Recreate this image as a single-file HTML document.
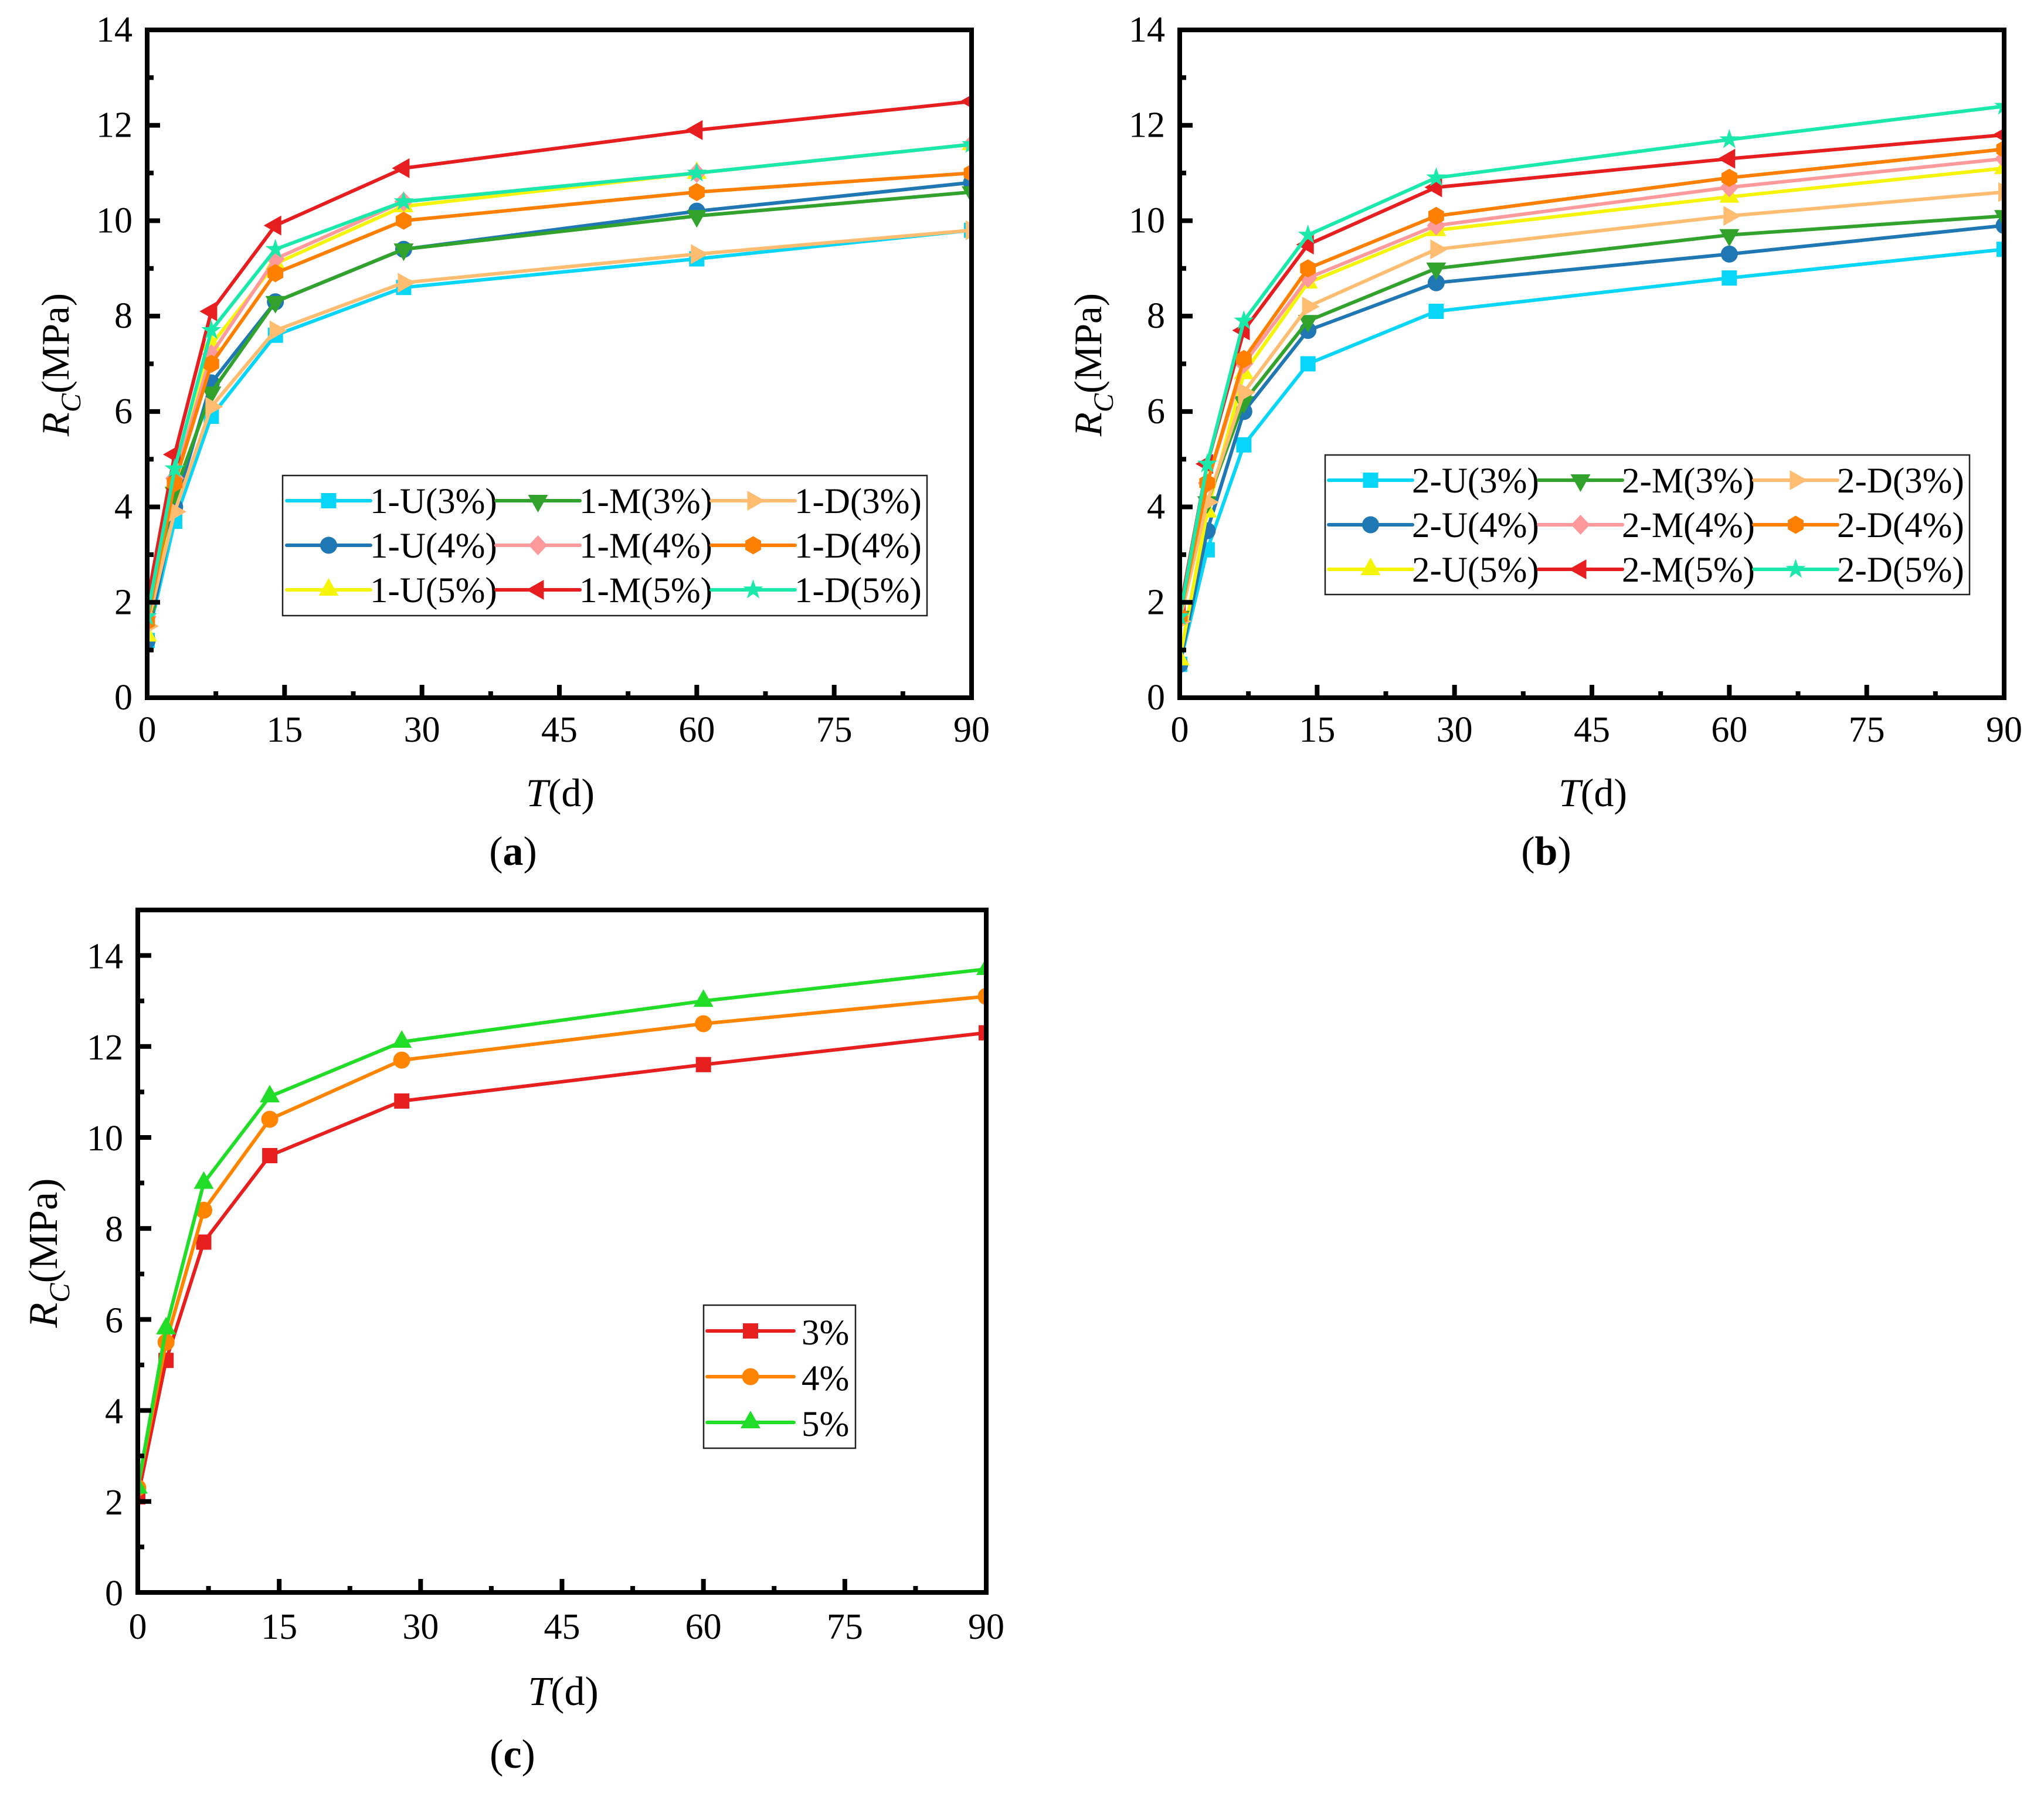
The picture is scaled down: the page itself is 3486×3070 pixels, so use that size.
<!DOCTYPE html>
<html lang="en">
<head>
<meta charset="utf-8">
<title>Compressive strength vs curing time</title>
<style>
html,body{margin:0;padding:0;background:#fff;}
svg{display:block;}
text{font-family:"Liberation Serif","Times New Roman",serif;fill:#000;}
</style>
</head>
<body>
<svg id="fig" xmlns="http://www.w3.org/2000/svg" width="3486" height="3070" viewBox="0 0 3486 3070">
<rect x="0" y="0" width="3486" height="3070" fill="#ffffff"/>
<g id="panel-a"></g>
<g id="panel-b"></g>
<g id="panel-c"></g>

<text x="955.5" y="1375" font-size="68" text-anchor="middle"><tspan font-style="italic">T</tspan>(d)</text>
<text x="2716.5" y="1375" font-size="68" text-anchor="middle"><tspan font-style="italic">T</tspan>(d)</text>
<text x="960.5" y="2908" font-size="70" text-anchor="middle"><tspan font-style="italic">T</tspan>(d)</text>

<text transform="translate(117,622) rotate(-90)" font-size="67" text-anchor="middle"><tspan font-style="italic">R</tspan><tspan font-style="italic" font-size="48" dy="20">C</tspan><tspan dy="-20">(MPa)</tspan></text>
<text transform="translate(1878,622) rotate(-90)" font-size="67" text-anchor="middle"><tspan font-style="italic">R</tspan><tspan font-style="italic" font-size="48" dy="20">C</tspan><tspan dy="-20">(MPa)</tspan></text>
<text transform="translate(97,2137) rotate(-90)" font-size="70" text-anchor="middle"><tspan font-style="italic">R</tspan><tspan font-style="italic" font-size="50" dy="21">C</tspan><tspan dy="-21">(MPa)</tspan></text>

<text x="875" y="1475" font-size="70" text-anchor="middle">(<tspan font-weight="bold">a</tspan>)</text>
<text x="2637" y="1475" font-size="70" text-anchor="middle">(<tspan font-weight="bold">b</tspan>)</text>
<text x="874" y="3015" font-size="70" text-anchor="middle">(<tspan font-weight="bold">c</tspan>)</text>
</svg>

<script>
// ---- Data ----
const days = [0, 3, 7, 14, 28, 60, 90];
const xTickLabels = [0, 15, 30, 45, 60, 75, 90];
const yTickLabelsAB = [0, 2, 4, 6, 8, 10, 12, 14];
const yTickLabelsC = [0, 2, 4, 6, 8, 10, 12, 14];

const a_U3 = [1.2, 3.7, 5.9, 7.6, 8.6, 9.2, 9.8];
const a_U4 = [1.2, 4.0, 6.6, 8.3, 9.4, 10.2, 10.8];
const a_U5 = [1.3, 4.5, 7.4, 9.1, 10.3, 11.0, 11.6];
const a_M3 = [1.8, 4.3, 6.4, 8.3, 9.4, 10.1, 10.6];
const a_M4 = [1.7, 4.6, 7.2, 9.2, 10.4, 11.0, 11.6];
const a_M5 = [2.0, 5.1, 8.1, 9.9, 11.1, 11.9, 12.5];
const a_D3 = [1.5, 3.9, 6.1, 7.7, 8.7, 9.3, 9.8];
const a_D4 = [1.6, 4.5, 7.0, 8.9, 10.0, 10.6, 11.0];
const a_D5 = [1.7, 4.8, 7.7, 9.4, 10.4, 11.0, 11.6];

const b_U3 = [0.7, 3.1, 5.3, 7.0, 8.1, 8.8, 9.4];
const b_U4 = [0.7, 3.5, 6.0, 7.7, 8.7, 9.3, 9.9];
const b_U5 = [0.8, 3.9, 6.8, 8.7, 9.8, 10.5, 11.1];
const b_M3 = [1.7, 4.1, 6.2, 7.9, 9.0, 9.7, 10.1];
const b_M4 = [1.7, 4.5, 7.0, 8.8, 9.9, 10.7, 11.3];
const b_M5 = [1.8, 4.9, 7.7, 9.5, 10.7, 11.3, 11.8];
const b_D3 = [1.6, 4.1, 6.4, 8.2, 9.4, 10.1, 10.6];
const b_D4 = [1.7, 4.5, 7.1, 9.0, 10.1, 10.9, 11.5];
const b_D5 = [1.7, 4.9, 7.9, 9.7, 10.9, 11.7, 12.4];

const c_3 = [2.1, 5.1, 7.7, 9.6, 10.8, 11.6, 12.3];
const c_4 = [2.3, 5.5, 8.4, 10.4, 11.7, 12.5, 13.1];
const c_5 = [2.3, 5.8, 9.0, 10.9, 12.1, 13.0, 13.7];

const seriesA = [a_U3, a_U4, a_U5, a_M3, a_M4, a_M5, a_D3, a_D4, a_D5];
const seriesB = [b_U3, b_U4, b_U5, b_M3, b_M4, b_M5, b_D3, b_D4, b_D5];
const seriesC = [c_3, c_4, c_5];

const namesA = ['1-U(3%)', '1-U(4%)', '1-U(5%)', '1-M(3%)', '1-M(4%)', '1-M(5%)', '1-D(3%)', '1-D(4%)', '1-D(5%)'];
const namesB = ['2-U(3%)', '2-U(4%)', '2-U(5%)', '2-M(3%)', '2-M(4%)', '2-M(5%)', '2-D(3%)', '2-D(4%)', '2-D(5%)'];
const namesC = ['3%', '4%', '5%'];

// ---- Styles (not data) ----
const colors9 = ['#08d6f8', '#1f77b4', '#f5f50a', '#31a22c', '#ff9a9c', '#e61e1f', '#ffbd72', '#ff7f00', '#1ae9ab'];
const shapes9 = ['square', 'circle', 'up', 'down', 'diamond', 'left', 'right', 'hexagon', 'star'];
const colors3 = ['#e71f1f', '#ff8400', '#22dd28'];
const shapes3 = ['square', 'circle', 'up'];

const NS = 'http://www.w3.org/2000/svg';
function mk(tag, attrs, parent) {
  const el = document.createElementNS(NS, tag);
  for (const k in attrs) el.setAttribute(k, attrs[k]);
  if (parent) parent.appendChild(el);
  return el;
}
function poly(pts, cx, cy) {
  return pts.map(function (p) { return (cx + p[0]).toFixed(1) + ',' + (cy + p[1]).toFixed(1); }).join(' ');
}
function starPts() {
  const out = [];
  for (let i = 0; i < 10; i++) {
    const r = i % 2 ? 7 : 18;
    const t = -Math.PI / 2 + i * Math.PI / 5;
    out.push([r * Math.cos(t), r * Math.sin(t)]);
  }
  return out;
}
function hexPts() {
  const out = [];
  for (let i = 0; i < 6; i++) {
    const t = -Math.PI / 2 + i * Math.PI / 3;
    out.push([15.5 * Math.cos(t), 15.5 * Math.sin(t)]);
  }
  return out;
}
const shapePts = {
  square: [[-13, -13], [13, -13], [13, 13], [-13, 13]],
  up: [[0, -20], [17, 10], [-17, 10]],
  down: [[0, 20], [17, -10], [-17, -10]],
  left: [[-20, 0], [10, -17], [10, 17]],
  right: [[20, 0], [-10, -17], [-10, 17]],
  diamond: [[0, -17], [16, 0], [0, 17], [-16, 0]],
  hexagon: hexPts(),
  star: starPts()
};
function marker(shape, cx, cy, color, parent) {
  if (shape === 'circle') {
    return mk('circle', { cx: cx, cy: cy, r: 14.5, fill: color }, parent);
  }
  return mk('polygon', { points: poly(shapePts[shape], cx, cy), fill: color }, parent);
}

function drawPanel(cfg) {
  const root = document.getElementById(cfg.id);
  const sx = function (v) { return cfg.left + (v / cfg.xMax) * (cfg.right - cfg.left); };
  const sy = function (v) { return cfg.bottom - (v / cfg.yMax) * (cfg.bottom - cfg.top); };

  // clip for plot contents
  const clip = mk('clipPath', { id: cfg.id + '-clip' }, root);
  mk('rect', { x: cfg.left + 4, y: cfg.top + 4, width: cfg.right - cfg.left - 8, height: cfg.bottom - cfg.top - 8 }, clip);

  const plot = mk('g', { 'clip-path': 'url(#' + cfg.id + '-clip)' }, root);
  
  

  cfg.series.forEach(function (vals, i) {
    const g = mk('g', {}, plot);
    
    
    const pts = vals.map(function (v, j) { return sx(days[j]).toFixed(1) + ',' + sy(v).toFixed(1); }).join(' ');
    const line = mk('polyline', { points: pts, fill: 'none', stroke: cfg.colors[i], 'stroke-width': 6, 'stroke-linejoin': 'round' }, g);
    
    
    vals.forEach(function (v, j) {
      const m = marker(cfg.shapes[i], sx(days[j]), sy(v), cfg.colors[i], g);
      
      
    });
  });

  // axes frame
  const frame = mk('rect', { x: cfg.left, y: cfg.top, width: cfg.right - cfg.left, height: cfg.bottom - cfg.top, fill: 'none', stroke: '#000', 'stroke-width': 8 }, root);
  
  

  // x ticks
  cfg.xTicks.forEach(function (t, i) {
    const tick = mk('rect', { x: sx(t) - 4, y: cfg.bottom - 4 - cfg.major, width: 8, height: cfg.major + 4, fill: '#000' }, root);
    
    
    const lab = mk('text', { x: sx(t), y: cfg.xLabelY, 'font-size': 62, 'text-anchor': 'middle' }, root);
    
    
    lab.textContent = t;
    if (i < cfg.xTicks.length - 1) {
      const mid = (t + cfg.xTicks[i + 1]) / 2;
      const minor = mk('rect', { x: sx(mid) - 4, y: cfg.bottom - 4 - cfg.minor, width: 8, height: cfg.minor + 4, fill: '#000' }, root);
      
      
    }
  });

  // y ticks
  cfg.yTicks.forEach(function (t, i) {
    const tick = mk('rect', { x: cfg.left + 4, y: sy(t) - 4, width: cfg.major, height: 8, fill: '#000' }, root);
    
    
    const lab = mk('text', { x: cfg.yLabelX, y: sy(t) + cfg.yLabelDy, 'font-size': 62, 'text-anchor': 'end' }, root);
    
    
    lab.textContent = t;
    if (i < cfg.yTicks.length - 1) {
      const mid = (t + cfg.yTicks[i + 1]) / 2;
      const minor = mk('rect', { x: cfg.left + 4, y: sy(mid) - 4, width: cfg.minor, height: 8, fill: '#000' }, root);
      
      
    }
  });

  // legend
  const lg = cfg.legend;
  const lgGroup = mk('g', {}, root);
  
  
  const box = mk('rect', { x: lg.x, y: lg.y, width: lg.w, height: lg.h, fill: '#fff', stroke: '#222', 'stroke-width': 2.5 }, lgGroup);
  
  
  cfg.names.forEach(function (name, i) {
    const col = Math.floor(i / lg.rows);
    const row = i % lg.rows;
    const x0 = lg.cols[col];
    const yy = lg.rowY[row];
    const entry = mk('g', {}, lgGroup);
    
    
    mk('line', { x1: x0, y1: yy, x2: x0 + lg.lineW, y2: yy, stroke: cfg.colors[i], 'stroke-width': 6, 'stroke-linecap': 'round' }, entry);
    marker(cfg.shapes[i], x0 + lg.lineW / 2, yy, cfg.colors[i], entry);
    const tx = mk('text', { x: x0 + lg.textDx, y: yy + lg.textDy, 'font-size': 61 }, entry);
    
    
    tx.textContent = name;
  });
}

drawPanel({
  id: 'panel-a', left: 251, right: 1657, top: 51, bottom: 1190, xMax: 90, yMax: 14,
  series: seriesA, names: namesA, colors: colors9, shapes: shapes9,
  xTicks: xTickLabels, yTicks: yTickLabelsAB, major: 18, minor: 7,
  xLabelY: 1265, yLabelX: 226, yLabelDy: 20,
  legend: { x: 482, y: 811, w: 1099, h: 239, rows: 3, cols: [489, 846, 1213], rowY: [854, 930, 1006], lineW: 143, textDx: 142, textDy: 21 }
});
drawPanel({
  id: 'panel-b', left: 2012, right: 3418, top: 51, bottom: 1190, xMax: 90, yMax: 14,
  series: seriesB, names: namesB, colors: colors9, shapes: shapes9,
  xTicks: xTickLabels, yTicks: yTickLabelsAB, major: 18, minor: 7,
  xLabelY: 1265, yLabelX: 1987, yLabelDy: 20,
  legend: { x: 2260, y: 776, w: 1099, h: 238, rows: 3, cols: [2266, 2624, 2991], rowY: [819, 895, 971], lineW: 143, textDx: 142, textDy: 21 }
});
drawPanel({
  id: 'panel-c', left: 235, right: 1682, top: 1552, bottom: 2716, xMax: 90, yMax: 15,
  series: seriesC, names: namesC, colors: colors3, shapes: shapes3,
  xTicks: xTickLabels, yTicks: yTickLabelsC, major: 19, minor: 7,
  xLabelY: 2795, yLabelX: 210, yLabelDy: 22,
  legend: { x: 1200, y: 2226, w: 259, h: 244, rows: 3, cols: [1206, 1206, 1206], rowY: [2270, 2348, 2426], lineW: 148, textDx: 161, textDy: 23 }
});
</script>
</body>
</html>
